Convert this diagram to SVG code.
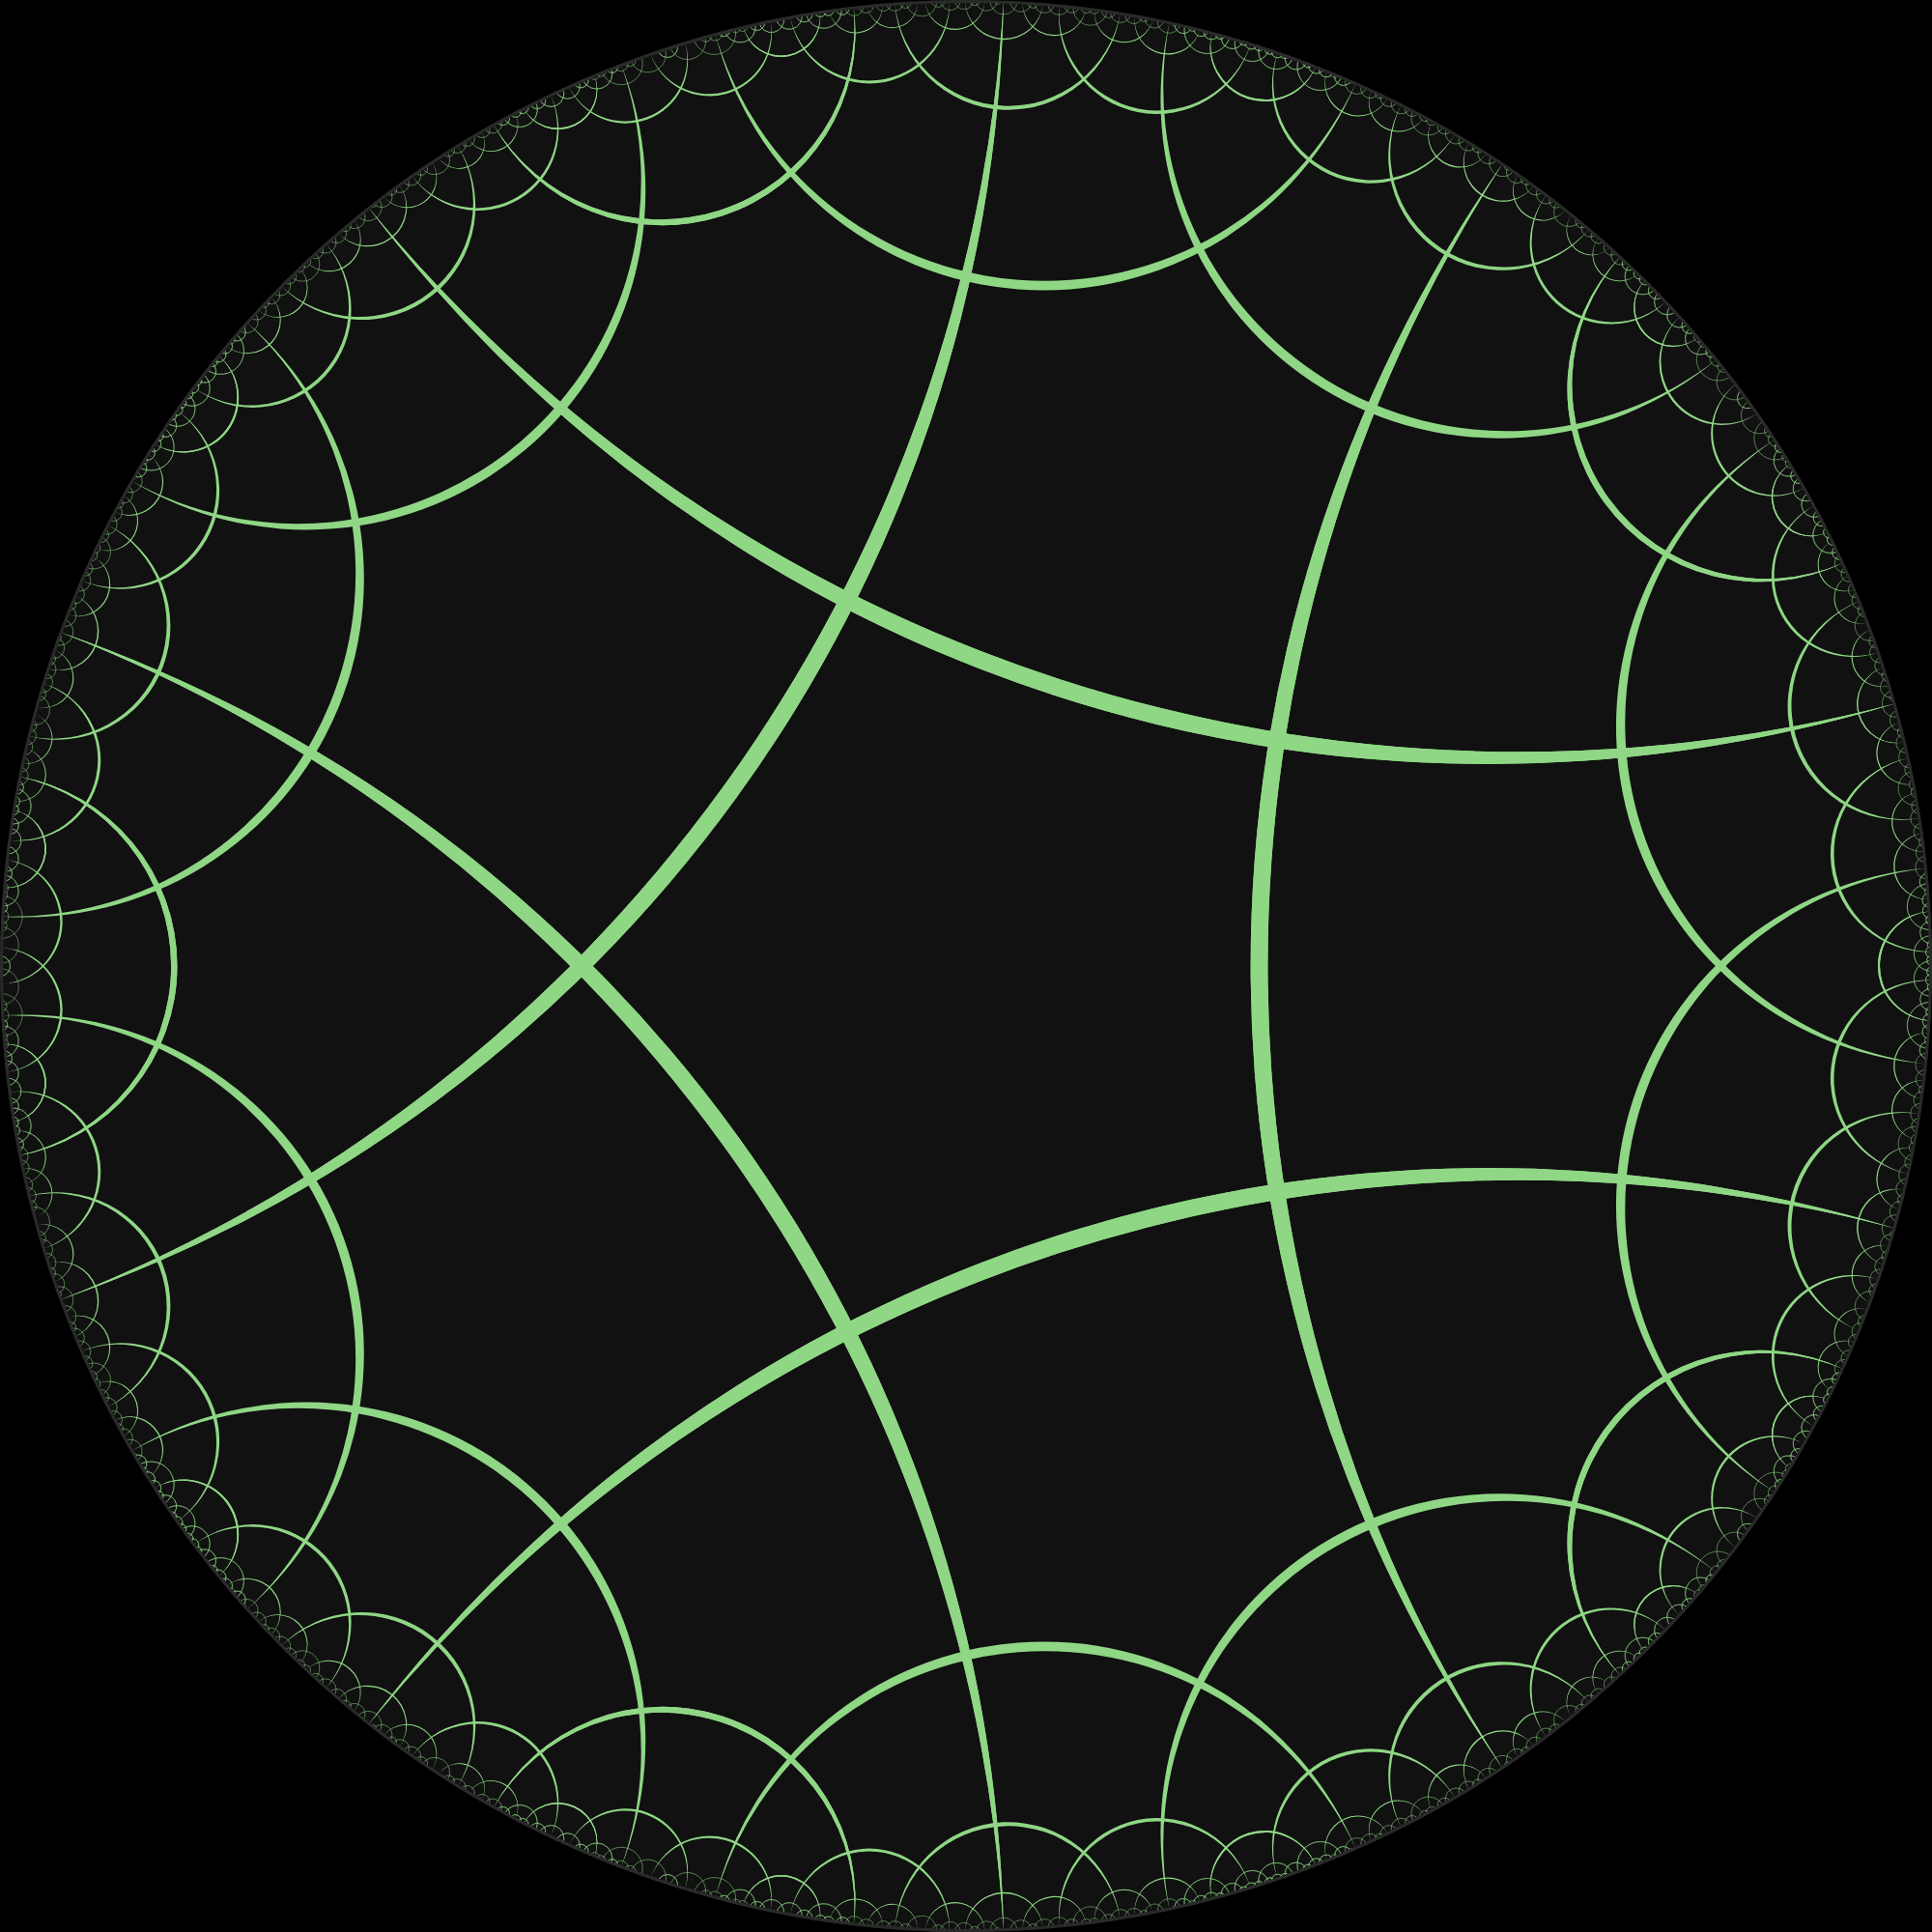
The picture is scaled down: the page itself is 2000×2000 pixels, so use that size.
<svg xmlns="http://www.w3.org/2000/svg" width="2000" height="2000" viewBox="0 0 2000 2000">
<style>
.c{fill:#8fd685}
.s{fill:none;stroke:#8fd685;stroke-width:.5}
</style>
<defs>
<clipPath id="diskclip"><circle cx="1000" cy="1000" r="1000"/></clipPath>
<g id="unit">
<path class="c" d="M1555.89 168.74A1453.17 1453.17 0 0 0 1555.89 1831.26A1540.7 1540.7 0 0 1 1555.89 168.74Z"/>
<path class="c" d="M1942.96 667.11A350.68 350.68 0 0 0 1942.96 1332.89A355.55 355.55 0 0 1 1942.96 667.11Z" transform="rotate(-13.6145 1000 1000)"/>
<path class="c" d="M1980.55 803.75A199.41 199.41 0 0 0 1980.55 1196.25A200.97 200.97 0 0 1 1980.55 803.75Z" transform="rotate(-36.002 1000 1000)"/>
<path class="c" d="M1993.147 883.131A117.428 117.428 0 0 0 1993.147 1116.869A117.969 117.969 0 0 1 1993.147 883.131Z" transform="rotate(-15.5105 1000 1000)"/>
<path class="c" d="M1994.871 898.849A101.49 101.49 0 0 0 1994.871 1101.151A101.895 101.895 0 0 1 1994.871 898.849Z" transform="rotate(-6.6455 1000 1000)"/>
<path class="c" d="M1996.546 916.958A83.21 83.21 0 0 0 1996.546 1083.042A83.482 83.482 0 0 1 1996.546 916.958Z" transform="rotate(-23.7335 1000 1000)"/>
<path class="c" d="M1998.402 943.481A56.558 56.558 0 0 0 1998.402 1056.519A56.683 56.683 0 0 1 1998.402 943.481Z"/>
<path class="c" d="M1997.925 935.616A64.449 64.449 0 0 0 1997.925 1064.384A64.612 64.612 0 0 1 1997.925 935.616Z" transform="rotate(-38.6115 1000 1000)"/>
<path class="c" d="M1999.178 959.476A40.533 40.533 0 0 0 1999.178 1040.524A40.597 40.597 0 0 1 1999.178 959.476Z" transform="rotate(-29.0335 1000 1000)"/>
<path class="c" d="M1999.179 959.493A40.516 40.516 0 0 0 1999.179 1040.507A40.58 40.58 0 0 1 1999.179 959.493Z" transform="rotate(-42.9715 1000 1000)"/>
<path class="c" d="M1999.181 959.528A40.481 40.481 0 0 0 1999.181 1040.472A40.545 40.545 0 0 1 1999.181 959.528Z" transform="rotate(-15.7355 1000 1000)"/>
<path class="c" d="M1999.526 969.217A30.785 30.785 0 0 0 1999.526 1030.783A30.822 30.822 0 0 1 1999.526 969.217Z" transform="rotate(-18.649 1000 1000)"/>
<path class="c" d="M1999.458 967.089A32.914 32.914 0 0 0 1999.458 1032.911A32.956 32.956 0 0 1 1999.458 967.089Z" transform="rotate(-12.746 1000 1000)"/>
<path class="c" d="M1999.529 969.322A30.68 30.68 0 0 0 1999.529 1030.678A30.717 30.717 0 0 1 1999.529 969.322Z" transform="rotate(-8.586 1000 1000)"/>
<path class="c" d="M1999.406 965.528A34.476 34.476 0 0 0 1999.406 1034.472A34.522 34.522 0 0 1 1999.406 965.528Z" transform="rotate(-5.9415 1000 1000)"/>
<path class="c" d="M1999.614 972.218A27.783 27.783 0 0 0 1999.614 1027.782A27.813 27.813 0 0 1 1999.614 972.218Z" transform="rotate(-24.558 1000 1000)"/>
<path class="c" d="M1999.659 973.875A26.126 26.126 0 0 0 1999.659 1026.125A26.152 26.152 0 0 1 1999.659 973.875Z" transform="rotate(-22.372 1000 1000)"/>
<path class="s" d="M1999.71 976.004A24.003 24.003 0 0 0 1999.71 1023.996" stroke-width=".94" transform="rotate(3.519 1000 1000)"/>
<path class="s" d="M1999.87 983.91A16.09 16.09 0 0 0 1999.87 1016.09" stroke-width=".63" transform="rotate(-31.53 1000 1000)"/>
<path class="s" d="M1999.96 991.03A8.97 8.97 0 0 0 1999.96 1008.97" transform="rotate(4.987 1000 1000)"/>
<path class="s" d="M1999.98 994.14A5.86 5.86 0 0 0 1999.98 1005.86" transform="rotate(-32.509 1000 1000)"/>
<path class="s" d="M2000 996.81A3.19 3.19 0 0 0 2000 1003.19" transform="rotate(5.5325 1000 1000)"/>
<path class="s" d="M1999.83 981.6A18.41 18.41 0 0 0 1999.83 1018.4" stroke-width=".72" transform="rotate(-45.5215 1000 1000)"/>
<path class="s" d="M1999.97 992.91A7.09 7.09 0 0 0 1999.97 1007.09" transform="rotate(-46.651 1000 1000)"/>
<path class="s" d="M1999.84 982.31A17.69 17.69 0 0 0 1999.84 1017.69" stroke-width=".69" transform="rotate(-10.6055 1000 1000)"/>
<path class="s" d="M1999.97 992.62A7.38 7.38 0 0 0 1999.97 1007.38" transform="rotate(-9.507 1000 1000)"/>
<path class="s" d="M1999.71 975.925A24.082 24.082 0 0 0 1999.71 1024.075" stroke-width=".94" transform="rotate(-3.5325 1000 1000)"/>
<path class="s" d="M1999.93 988.33A11.67 11.67 0 0 0 1999.93 1011.67" transform="rotate(-1.9995 1000 1000)"/>
<path class="s" d="M1999.99 995.38A4.63 4.63 0 0 0 1999.99 1004.62" transform="rotate(-1.28 1000 1000)"/>
<path class="s" d="M1999.83 981.52A18.48 18.48 0 0 0 1999.83 1018.48" stroke-width=".72" transform="rotate(-26.47 1000 1000)"/>
<path class="s" d="M1999.88 984.33A15.67 15.67 0 0 0 1999.88 1015.67" stroke-width=".61" transform="rotate(-20.626 1000 1000)"/>
<path class="s" d="M1999.98 993.06A6.94 6.94 0 0 0 1999.98 1006.94" transform="rotate(-19.6445 1000 1000)"/>
<path class="s" d="M1999.83 981.63A18.37 18.37 0 0 0 1999.83 1018.37" stroke-width=".72" transform="rotate(-0.7545 1000 1000)"/>
<path class="s" d="M1999.83 981.57A18.43 18.43 0 0 0 1999.83 1018.43" stroke-width=".72" transform="rotate(0.736 1000 1000)"/>
<path class="s" d="M1999.93 988.35A11.65 11.65 0 0 0 1999.93 1011.65" transform="rotate(1.9855 1000 1000)"/>
<path class="s" d="M1999.99 994.69A5.32 5.32 0 0 0 1999.99 1005.31" transform="rotate(2.7195 1000 1000)"/>
<path class="s" d="M1999.97 991.97A8.03 8.03 0 0 0 1999.97 1008.03" transform="rotate(-30.499 1000 1000)"/>
<path class="s" d="M1999.92 986.99A13.01 13.01 0 0 0 1999.92 1013.01" stroke-width=".51" transform="rotate(-29.6225 1000 1000)"/>
<path class="s" d="M1999.91 986.64A13.36 13.36 0 0 0 1999.91 1013.36" stroke-width=".52" transform="rotate(-28.5545 1000 1000)"/>
<path class="s" d="M1999.96 991.39A8.61 8.61 0 0 0 1999.96 1008.61" transform="rotate(-27.6445 1000 1000)"/>
<path class="s" d="M1999.97 992.01A7.99 7.99 0 0 0 1999.97 1007.99" transform="rotate(3.27 1000 1000)"/>
<path class="s" d="M1999.97 992.42A7.58 7.58 0 0 0 1999.97 1007.58" transform="rotate(3.9015 1000 1000)"/>
<path class="s" d="M1999.99 994.96A5.04 5.04 0 0 0 1999.99 1005.04" transform="rotate(-31.796 1000 1000)"/>
<path class="s" d="M1999.99 994.62A5.38 5.38 0 0 0 1999.99 1005.38" transform="rotate(-31.3735 1000 1000)"/>
<path class="s" d="M1999.87 983.9A16.1 16.1 0 0 0 1999.87 1016.1" stroke-width=".63" transform="rotate(-40.4715 1000 1000)"/>
<path class="s" d="M1999.755 977.862A22.144 22.144 0 0 0 1999.755 1022.138" stroke-width=".87" transform="rotate(-38.9035 1000 1000)"/>
<path class="s" d="M1999.82 981.14A18.86 18.86 0 0 0 1999.82 1018.86" stroke-width=".74" transform="rotate(-37.2375 1000 1000)"/>
<path class="s" d="M1999.95 989.52A10.48 10.48 0 0 0 1999.95 1010.48" transform="rotate(-36.0015 1000 1000)"/>
<path class="s" d="M1999.96 991.35A8.65 8.65 0 0 0 1999.96 1008.65" transform="rotate(-44.3545 1000 1000)"/>
<path class="s" d="M1999.91 986.63A13.37 13.37 0 0 0 1999.91 1013.37" stroke-width=".52" transform="rotate(-43.442 1000 1000)"/>
<path class="s" d="M1999.92 987.02A12.98 12.98 0 0 0 1999.92 1012.98" stroke-width=".51" transform="rotate(-42.3745 1000 1000)"/>
<path class="s" d="M1999.97 992.02A7.99 7.99 0 0 0 1999.97 1007.98" transform="rotate(-41.5015 1000 1000)"/>
<path class="s" d="M1999.98 994.14A5.86 5.86 0 0 0 1999.98 1005.86" transform="rotate(-45.8035 1000 1000)"/>
<path class="s" d="M1999.98 993.89A6.11 6.11 0 0 0 1999.98 1006.11" transform="rotate(-45.319 1000 1000)"/>
<path class="s" d="M1999.94 989.12A10.88 10.88 0 0 0 1999.94 1010.88" transform="rotate(-16.7785 1000 1000)"/>
<path class="s" d="M1999.9 985.99A14.01 14.01 0 0 0 1999.9 1014.01" stroke-width=".55" transform="rotate(-15.7625 1000 1000)"/>
<path class="s" d="M1999.94 988.87A11.14 11.14 0 0 0 1999.94 1011.13" transform="rotate(-14.737 1000 1000)"/>
<path class="s" d="M1999.98 994.1A5.9 5.9 0 0 0 1999.98 1005.9" transform="rotate(-14.015 1000 1000)"/>
<path class="s" d="M1999.95 989.64A10.36 10.36 0 0 0 1999.95 1010.36" transform="rotate(-18.9265 1000 1000)"/>
<path class="s" d="M1999.95 990.43A9.57 9.57 0 0 0 1999.95 1009.57" transform="rotate(-18.1185 1000 1000)"/>
<path class="s" d="M1999.98 994.33A5.67 5.67 0 0 0 1999.98 1005.67" transform="rotate(-17.481 1000 1000)"/>
<path class="s" d="M1999.95 989.89A10.11 10.11 0 0 0 1999.95 1010.11" transform="rotate(-13.345 1000 1000)"/>
<path class="s" d="M1999.94 988.87A11.14 11.14 0 0 0 1999.94 1011.13" transform="rotate(-12.483 1000 1000)"/>
<path class="s" d="M1999.97 992.36A7.65 7.65 0 0 0 1999.97 1007.64" transform="rotate(-11.709 1000 1000)"/>
<path class="s" d="M1999.98 994.22A5.78 5.78 0 0 0 1999.98 1005.78" transform="rotate(-10.832 1000 1000)"/>
<path class="s" d="M1999.98 994.27A5.74 5.74 0 0 0 1999.98 1005.73" transform="rotate(-10.3655 1000 1000)"/>
<path class="s" d="M1999.95 989.54A10.46 10.46 0 0 0 1999.95 1010.46" transform="rotate(-8.7865 1000 1000)"/>
<path class="s" d="M1999.96 990.76A9.24 9.24 0 0 0 1999.96 1009.24" transform="rotate(-7.9865 1000 1000)"/>
<path class="s" d="M1999.99 994.73A5.27 5.27 0 0 0 1999.99 1005.27" transform="rotate(-7.377 1000 1000)"/>
<path class="s" d="M1999.95 990.24A9.76 9.76 0 0 0 1999.95 1009.76" transform="rotate(-6.741 1000 1000)"/>
<path class="s" d="M1999.93 988.1A11.9 11.9 0 0 0 1999.93 1011.9" transform="rotate(-5.859 1000 1000)"/>
<path class="s" d="M1999.96 991.02A8.98 8.98 0 0 0 1999.96 1008.98" transform="rotate(-5.0045 1000 1000)"/>
<path class="s" d="M1999.99 995.42A4.58 4.58 0 0 0 1999.99 1004.58" transform="rotate(-4.4265 1000 1000)"/>
<path class="s" d="M1999.97 992.41A7.59 7.59 0 0 0 1999.97 1007.59" transform="rotate(-3.919 1000 1000)"/>
<path class="s" d="M1999.97 991.97A8.03 8.03 0 0 0 1999.97 1008.03" transform="rotate(-3.286 1000 1000)"/>
<path class="s" d="M1999.99 994.69A5.31 5.31 0 0 0 1999.99 1005.31" transform="rotate(-2.734 1000 1000)"/>
<path class="s" d="M1999.97 992.9A7.1 7.1 0 0 0 1999.97 1007.1" transform="rotate(-25.3355 1000 1000)"/>
<path class="s" d="M1999.95 990.42A9.58 9.58 0 0 0 1999.95 1009.58" transform="rotate(-24.653 1000 1000)"/>
<path class="s" d="M1999.97 992.01A7.99 7.99 0 0 0 1999.97 1007.99" transform="rotate(-23.938 1000 1000)"/>
<path class="s" d="M1999.97 992.23A7.77 7.77 0 0 0 1999.97 1007.77" transform="rotate(-22.904 1000 1000)"/>
<path class="s" d="M1999.96 991.06A8.95 8.95 0 0 0 1999.96 1008.94" transform="rotate(-22.2255 1000 1000)"/>
<path class="s" d="M1999.98 993.61A6.39 6.39 0 0 0 1999.98 1006.39" transform="rotate(-21.596 1000 1000)"/>
<path class="s" d="M1999.98 993.87A6.14 6.14 0 0 0 1999.98 1006.13" transform="rotate(-26.6715 1000 1000)"/>
<path class="s" d="M1999.98 994.13A5.87 5.87 0 0 0 1999.98 1005.87" transform="rotate(-26.1855 1000 1000)"/>
<path class="s" d="M1999.98 993.67A6.33 6.33 0 0 0 1999.98 1006.33" transform="rotate(0.8185 1000 1000)"/>
<path class="s" d="M1999.99 994.61A5.39 5.39 0 0 0 1999.99 1005.39" transform="rotate(0.342 1000 1000)"/>
<path class="s" d="M1999.99 995.39A4.61 4.61 0 0 0 1999.99 1004.61" transform="rotate(1.267 1000 1000)"/>
<path class="s" d="M1999.98 993.67A6.33 6.33 0 0 0 1999.98 1006.33" transform="rotate(-0.8185 1000 1000)"/>
<path class="s" d="M1999.99 994.61A5.39 5.39 0 0 0 1999.99 1005.39" transform="rotate(-0.342 1000 1000)"/>
<path class="s" d="M1999.97 992.35A7.65 7.65 0 0 0 1999.97 1007.65" transform="rotate(-38.9385 1000 1000)"/>
<path class="s" d="M1999.98 993.81A6.19 6.19 0 0 0 1999.98 1006.19" transform="rotate(-38.3745 1000 1000)"/>
<path class="s" d="M1999.98 994.14A5.86 5.86 0 0 0 1999.98 1005.86" transform="rotate(-39.4905 1000 1000)"/>
<path class="s" d="M2000 996.25A3.75 3.75 0 0 0 2000 1003.75" transform="rotate(-55.877 1000 1000)"/>
</g>
<g id="pair">
<use href="#unit"/>
<use href="#unit" transform="matrix(1 0 0 -1 0 2000)"/>
</g>
</defs>
<rect id="background" width="2000" height="2000" fill="#000"/>
<circle id="disk" cx="1000" cy="1000" r="1000" fill="#111"/>
<g id="tiling" clip-path="url(#diskclip)">
<use href="#pair"/>
<use href="#pair" transform="rotate(72 1000 1000)"/>
<use href="#pair" transform="rotate(144 1000 1000)"/>
<use href="#pair" transform="rotate(216 1000 1000)"/>
<use href="#pair" transform="rotate(288 1000 1000)"/>
</g>
<circle id="rim" cx="1000" cy="1000" r="998.5" fill="none" stroke="#2a2a2a" stroke-width="3"/>
</svg>
